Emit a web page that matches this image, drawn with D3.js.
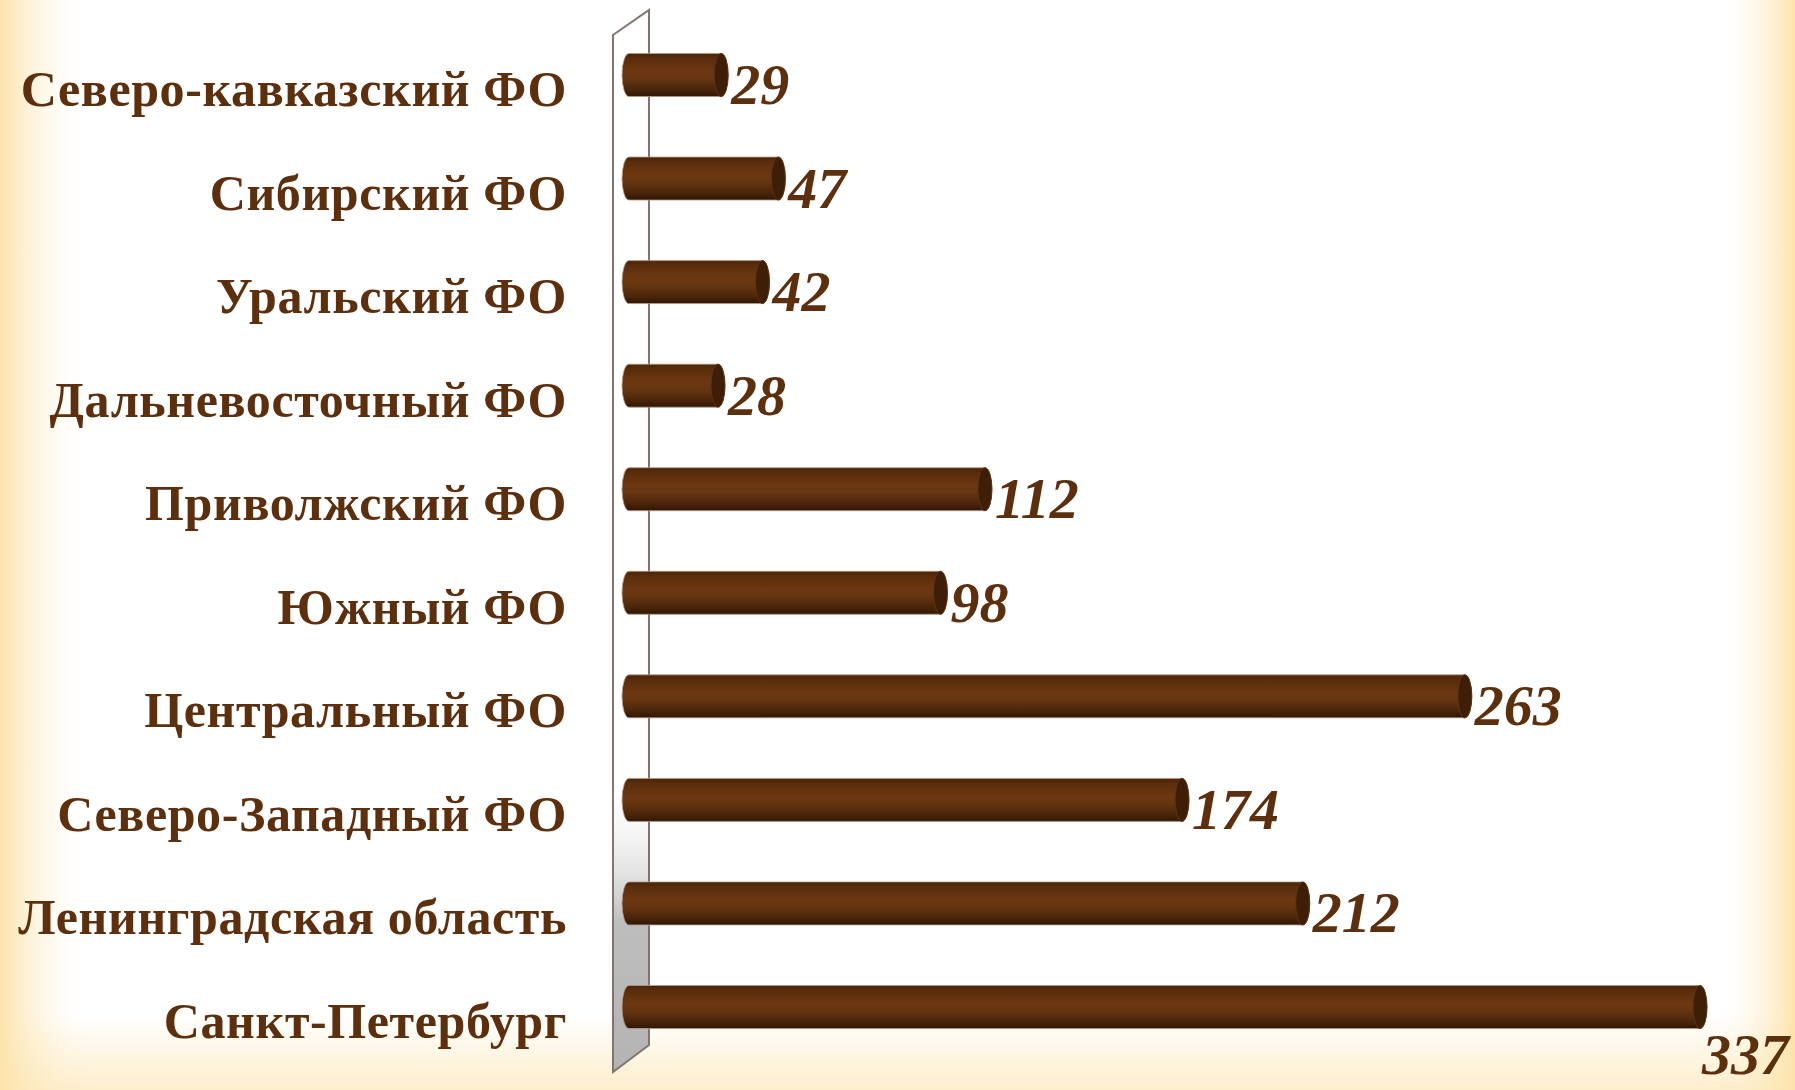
<!DOCTYPE html>
<meta charset="utf-8">
<style>
body { margin: 0; background: #fff; }
.label { font-family: "Liberation Serif", serif; font-weight: bold; fill: #5c300e; }
.value { font-family: "Liberation Serif", serif; font-weight: bold; font-style: italic; fill: #5c300e; }
</style>
<body>
<div id="chart"></div>
</body>
<script src="https://d3js.org/d3.v7.min.js"></script>
<script>

var regions = ["Северо-кавказский ФО", "Сибирский ФО", "Уральский ФО", "Дальневосточный ФО",
               "Приволжский ФО", "Южный ФО", "Центральный ФО", "Северо-Западный ФО",
               "Ленинградская область", "Санкт-Петербург"];
var counts = [29, 47, 42, 28, 112, 98, 263, 174, 212, 337];

var width = 1795, height = 1090;

var svg = d3.select("#chart").append("svg")
    .attr("width", width)
    .attr("height", height);

var defs = svg.append("defs");

// cream fade at the left / right edges and the bottom
var side = defs.append("linearGradient")
    .attr("id", "side")
    .attr("x1", 0).attr("y1", 0).attr("x2", 1).attr("y2", 0);
[[0, "#fce3aa", 1], [0.05, "#ffffff", 0], [0.955, "#ffffff", 0], [1, "#fce3aa", 1]]
  .forEach(function(s) { side.append("stop").attr("offset", s[0]).attr("stop-color", s[1]).attr("stop-opacity", s[2]); });

var bottom = defs.append("linearGradient")
    .attr("id", "bottom")
    .attr("x1", 0).attr("y1", 0).attr("x2", 0).attr("y2", 1);
[[0, "#fce3aa", 0], [0.93, "#fce3aa", 0], [1, "#fce3aa", 0.6]]
  .forEach(function(s) { bottom.append("stop").attr("offset", s[0]).attr("stop-color", s[1]).attr("stop-opacity", s[2]); });

// the wall behind the bars
var wall = defs.append("linearGradient")
    .attr("id", "wall")
    .attr("x1", 0).attr("y1", 0).attr("x2", 0).attr("y2", 1);
wall.append("stop").attr("offset", 0.72).attr("stop-color", "#ffffff").attr("stop-opacity", 0);
wall.append("stop").attr("offset", 0.86).attr("stop-color", "#bdbdbd");
wall.append("stop").attr("offset", 1).attr("stop-color", "#b4b4b4");

// cylinder shading
var cyl = defs.append("linearGradient")
    .attr("id", "cyl")
    .attr("x1", 0).attr("y1", 0).attr("x2", 0).attr("y2", 1);
[[0, "#4a2409"], [0.12, "#5a2d0c"], [0.42, "#6c3812"], [0.6, "#653410"], [0.85, "#48240a"], [1, "#2e1604"]]
  .forEach(function(s) { cyl.append("stop").attr("offset", s[0]).attr("stop-color", s[1]); });

svg.append("rect").attr("width", width).attr("height", height).attr("fill", "#ffffff");
svg.append("rect").attr("width", width).attr("height", height).attr("fill", "url(#side)");
svg.append("rect").attr("width", width).attr("height", height).attr("fill", "url(#bottom)");

var x = d3.scaleLinear().domain([0, 337]).range([629, 1700]);
var y = d3.scaleBand().domain(regions).range([53.5, 1028.5]).paddingInner(0.585).paddingOuter(0);

// wall (parallelogram)
svg.append("path")
    .attr("d", "M613,35 L649,10 L649,1045 L613,1072 Z")
    .attr("fill", "url(#wall)")
    .attr("stroke", "#857370")
    .attr("stroke-width", 2);

var rx = 7;
var bh = y.bandwidth();

var bars = svg.selectAll(".bar")
    .data(counts)
  .enter().append("g")
    .attr("class", "bar")
    .attr("transform", function(d, i) { return "translate(0," + y(regions[i]) + ")"; });

bars.append("path")
    .attr("d", function(d) {
      var x0 = x(0), x1 = x(d), r = bh / 2;
      return "M" + x0 + ",0 L" + x1 + ",0 A" + rx + "," + r + " 0 0 1 " + x1 + "," + bh +
             " L" + x0 + "," + bh + " A" + rx + "," + r + " 0 0 1 " + x0 + ",0 Z";
    })
    .attr("fill", "url(#cyl)")
    .attr("stroke", "#b59a88")
    .attr("stroke-width", 0.8);

bars.append("ellipse")
    .attr("cx", function(d) { return x(d); })
    .attr("cy", bh / 2)
    .attr("rx", rx)
    .attr("ry", bh / 2)
    .attr("fill", "#3e1e07")
    .attr("stroke", "#5e3212")
    .attr("stroke-width", 1);

// category labels
svg.selectAll(".label")
    .data(regions)
  .enter().append("text")
    .attr("class", "label")
    .attr("x", 567)
    .attr("y", function(d) { return y(d) + bh / 2 + 31; })
    .attr("text-anchor", "end")
    .style("font-size", "50px")
    .style("letter-spacing", "0.6px")
    .text(function(d) { return d; });

// value labels; the ones that would run off the right edge go under the bar
var valueRoom = 100;
svg.selectAll(".value")
    .data(counts)
  .enter().append("text")
    .attr("class", "value")
    .style("font-size", "58px")
    .attr("x", function(d) { return x(d) + rx + 3; })
    .attr("y", function(d, i) { return y(regions[i]) + bh / 2 + 29; })
    .text(function(d) { return d; })
    .each(function(d, i) {
      if (x(d) + rx + 3 + valueRoom > width) {
        d3.select(this)
          .attr("x", width - 6)
          .attr("text-anchor", "end")
          .attr("y", y(regions[i]) + bh + 45);
      }
    });

</script>
